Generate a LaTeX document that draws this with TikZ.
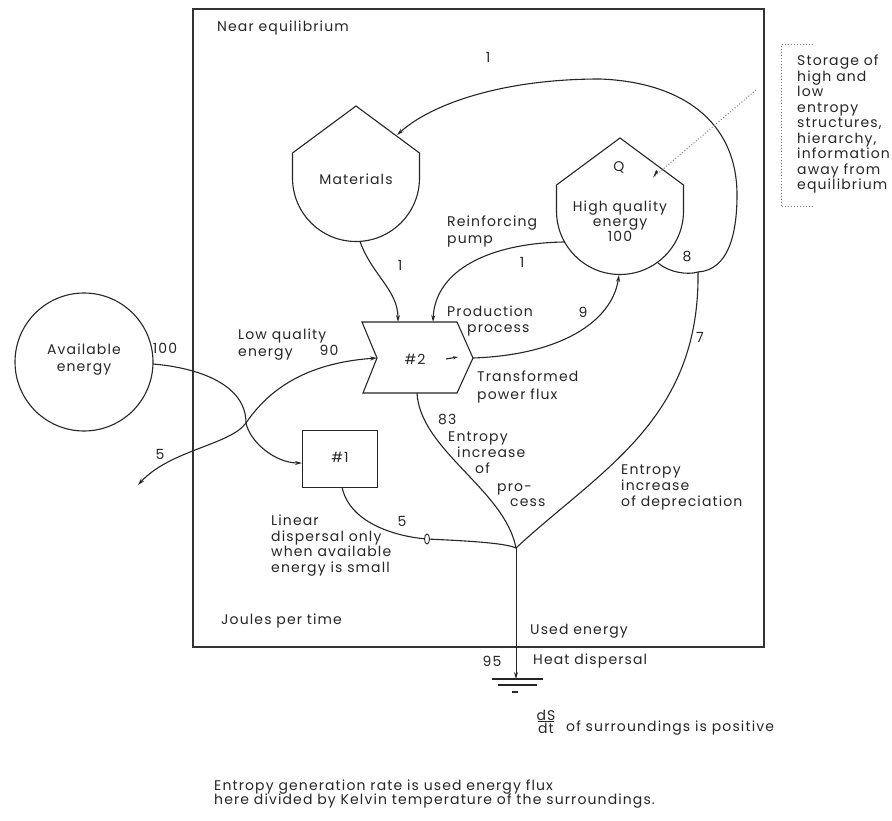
\documentclass[tikz,border=0pt]{standalone}
\usepackage{fontspec}
\setmainfont{Poppins}[LetterSpace=8]
\usetikzlibrary{arrows.meta}
\begin{document}
\begin{tikzpicture}[x=1pt,y=-1pt,
  txt/.style={inner sep=0pt, font=\fontsize{14}{16}\selectfont, text height=9.5pt, text depth=0pt, text=black!85},
  lt/.style={txt, anchor=west},
  ct/.style={txt, anchor=center},
  ln/.style={line width=1.1pt, draw=black!85},
  arr/.style={ln, -{Stealth[length=7pt,width=4pt]}},
  frame/.style={line width=2.4pt, draw=black!80},
  dots/.style={line width=1pt, draw=black!50, dotted},
]
\useasboundingbox (0,0) rectangle (892,821);
\fill[white] (0,0) rectangle (892,821);

% frame
\draw[frame] (193,9) rectangle (764,647);
\node[lt] (neareq) at (217,27) {Near equilibrium};
\node[lt] (joules) at (221,620) {Joules per time};

% Materials storage
\draw[ln] (356,106) -- (419.5,153) -- (419.5,178) arc[start angle=0,end angle=180,radius=63.5] -- (292.5,153) -- cycle;
\node[ct] (mat) at (356,180) {Materials};
\coordinate (matbot) at (360,241.5);
\coordinate (matin) at (397,135);

% High quality energy storage
\draw[ln] (620,138) -- (683.5,185) -- (683.5,211) arc[start angle=0,end angle=180,radius=63.5] -- (556.5,185) -- cycle;
\node[ct] (q) at (619,167) {Q};
\node[ct] (hq1) at (620,207) {High quality};
\node[ct] (hq2) at (620,222) {energy};
\node[ct] (hq3) at (620,237) {100};
\coordinate (hqleft) at (564.5,242);
\coordinate (hqbot) at (619,275);
\coordinate (hqright) at (658,263);

% Available energy source
\node[draw, circle, line width=1.1pt, draw=black!85, minimum size=138pt, inner sep=0pt] (avail) at (84,362) {};
\node[ct] (av1) at (84,350) {Available};
\node[ct] (av2) at (84,367) {energy};
\node[ct] (n100) at (165,349) {100};

% #2 process
\draw[ln] (362,322) -- (457,322) -- (473,358) -- (457,393) -- (363,393) -- (377,358) -- cycle;
\node[ct] (p2) at (415,360) {\#2};
\coordinate (p2in) at (377,358);
\coordinate (p2out) at (473,358);
\coordinate (p2topa) at (398,322);
\coordinate (p2topb) at (433,322);
\coordinate (p2bot) at (417,393);
\draw[ln, -{Stealth[length=5pt,width=3pt]}] (446,359) -- (458,357);

% #1 box
\node[draw, line width=1pt, draw=black!85, minimum width=75pt, minimum height=57pt, inner sep=0pt] (p1) at (339.5,458.5) {};
\node[ct] (p1t) at (340,458) {\#1};

% junction coordinates
\coordinate (S) at (246,423);
\coordinate (J) at (516,548);
\coordinate (D) at (698,272);
\coordinate (out5) at (138,485);
\coordinate (valve) at (427,539);
\coordinate (ground) at (516,679);

% flows from available energy
\draw[ln] (153,364) .. controls (200,368) and (246,385) .. (S);
\draw[arr] (S) .. controls (250,442) and (275,463) .. (302,463);
\draw[arr] (S) .. controls (275,380) and (320,362) .. (p2in);
\draw[arr] (S) .. controls (230,445) and (170,450) .. (out5);

% materials to #2
\draw[arr] (matbot) .. controls (372,275) and (398,290) .. (p2topa);
% reinforcing pump
\draw[arr] (hqleft) .. controls (490,243) and (435,270) .. (p2topb);
% #2 to HQ
\draw[arr] (p2out) .. controls (560,355) and (612,322) .. (hqbot);
% HQ to D and loop back to materials
\draw[ln] (hqright) .. controls (670,273) and (688,275) .. (D);
\draw[arr] (D) .. controls (728,270) and (737,235) .. (737,195)
  .. controls (737,120) and (680,82) .. (600,79)
  .. controls (500,79) and (430,105) .. (matin);
% depreciation
\draw[ln] (D) .. controls (700,420) and (600,470) .. (J);
% entropy of process
\draw[ln] (p2bot) .. controls (420,450) and (505,490) .. (J);
% linear dispersal
\draw[ln] (342,487) .. controls (350,525) and (400,537) .. (valve) .. controls (470,541) and (505,543) .. (J);
\draw[line width=0.9pt, draw=black!85, fill=white] (valve) ellipse[x radius=2.5, y radius=5];
% heat sink
\draw[ln, line width=0.9pt, -{Stealth[length=7pt,width=4pt]}] (J) -- (ground);
\draw[ln] (492,679) -- (543,679);
\draw[ln] (498,685) -- (537,685);
\draw[ln] (512,692) -- (518,692);

% dotted annotation
\draw[dots] (756,90) -- (655,176);
\fill[black!85] (653,178) -- ++(3,-8) -- ++(2,2) -- cycle;
\draw[dots] (813,45) -- (781,45) -- (781,207) -- (813,207);

% labels
\node[ct] (l1top) at (488,58) {1};
\node[ct] (l1mat) at (400,266) {1};
\node[ct] (l1pump) at (522,263) {1};
\node[ct] (l8) at (687,257) {8};
\node[ct] (l9) at (583,313) {9};
\node[ct] (l7) at (700,338) {7};
\node[ct] (l90) at (329,351) {90};
\node[ct] (l5a) at (160,455) {5};
\node[ct] (l5b) at (402,522) {5};
\node[ct] (l95) at (492,662) {95};
\node[lt] (l83) at (438,420) {83};

\node[lt] (st1) at (797,61) {Storage of};
\node[lt] (st2) at (797,76.5) {high and};
\node[lt] (st3) at (797,92) {low};
\node[lt] (st4) at (797,107.5) {entropy};
\node[lt] (st5) at (797,123) {structures,};
\node[lt] (st6) at (797,138.5) {hierarchy,};
\node[lt] (st7) at (797,154) {information};
\node[lt] (st8) at (797,169.5) {away from};
\node[lt] (st9) at (797,185) {equilibrium};

\node[lt] (rp1) at (447,222) {Reinforcing};
\node[lt] (rp2) at (447,239) {pump};
\node[lt] (pp1) at (447,312) {Production};
\node[lt] (pp2) at (467,328) {process};
\node[lt] (lq1) at (238,335) {Low quality};
\node[lt] (lq2) at (238,352) {energy};
\node[lt] (tp1) at (477,377) {Transformed};
\node[lt] (tp2) at (477,395) {power flux};

\node[lt] (ep1) at (448,437) {Entropy};
\node[lt] (ep2) at (457,453) {increase};
\node[lt] (ep3) at (475,469) {of};
\node[lt] (ep4) at (497,487) {pro-};
\node[lt] (ep5) at (510,502) {cess};

\node[lt] (ed1) at (621,470) {Entropy};
\node[lt] (ed2) at (621,485.5) {increase};
\node[lt] (ed3) at (621,502) {of depreciation};

\node[lt] (ld1) at (271,521) {Linear};
\node[lt] (ld2) at (271,536.5) {dispersal only};
\node[lt] (ld3) at (271,552) {when available};
\node[lt] (ld4) at (271,567.5) {energy is small};

\node[lt] (used) at (530,630) {Used energy};
\node[lt] (heat) at (533,660) {Heat dispersal};

\node[ct] (dS) at (546,716) {dS};
\draw[line width=0.8pt, draw=black!85] (538,721.5) -- (554,721.5);
\node[ct] (dt) at (546,729) {dt};
\node[lt] (surr) at (566,727) {of surroundings is positive};
\node[lt] (eg1) at (214,786) {Entropy generation rate is used energy flux};
\node[lt] (eg2) at (214,800) {here divided by Kelvin temperature of the surroundings.};
\end{tikzpicture}
\end{document}
